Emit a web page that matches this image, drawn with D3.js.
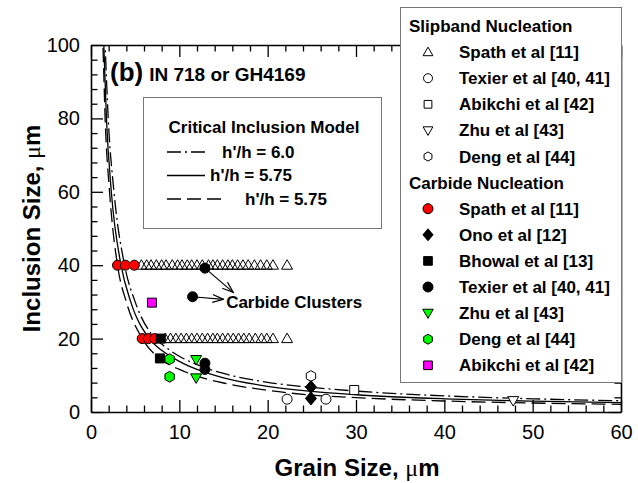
<!DOCTYPE html>
<html>
<head>
<meta charset="utf-8">
<script src="https://cdn.jsdelivr.net/npm/d3@7"></script>
<style>
  body { margin: 0; background: #fff; }
  svg { font-family: "Liberation Sans", Arial, sans-serif; }
</style>
</head>
<body>
<div id="chart"></div>
<script>
// tick values
const grainTicks = [0, 10, 20, 30, 40, 50, 60];
const sizeTicks = [0, 20, 40, 60, 80, 100];

// critical inclusion model, [grain size, inclusion size]
const modelDashDot = [[1.45,110],[1.6,100],[1.95,80],[2.6,60],[3.8,40],[5,30],[7.3,20],[8,18.5],[10,15.2],[12,12.9],[15,10.5],[20,8.1],[25,6.7],[30,5.7],[40,4.4],[50,3.6],[60,3.05]];
const modelSolid = [[1.3,110],[1.45,100],[1.75,80],[2.3,60],[3.4,40],[4.5,30],[6.6,20],[8,16.8],[10,13.8],[12,11.6],[15,9.3],[20,7.0],[25,5.6],[30,4.7],[40,3.6],[50,2.95],[60,2.55]];
const modelDashed = [[1.2,110],[1.35,100],[1.6,80],[2.1,60],[3.0,40],[4.0,30],[5.8,20],[8,14.2],[10,11.6],[12,9.8],[15,7.9],[20,5.9],[25,4.6],[30,3.9],[40,3.0],[50,2.45],[60,2.1]];

// slipband nucleation
const slipSpath40 = [5.7,6.3,6.8,7.4,8.0,8.5,9.2,9.8,10.3,10.9,11.4,12.0,12.6,13.3,13.8,14.3,14.9,15.5,16.0,16.6,17.2,17.8,18.5,19.2,19.9,20.6,22.2];
const slipSpath20 = [8.4,9.0,9.6,10.2,10.8,11.4,12.0,12.6,13.2,13.8,14.3,14.9,15.5,16.1,16.7,17.3,17.9,18.6,19.3,19.9,20.6,22.2];
const slipTexier = [[22.2,3.5],[26.6,3.5]];
const slipAbikchi = [[29.8,6.0]];
const slipZhu = [[47.8,3.1]];
const slipDeng = [[24.9,9.8]];

// carbide nucleation
const carbSpath = [[3.0,40],[3.9,40],[4.9,40],[5.8,20],[6.5,20],[7.2,20]];
const carbOno = [[24.9,6.8],[24.9,3.7]];
const carbBhowal = [[7.9,20],[7.8,14.6]];
const carbTexier = [[12.9,39.2],[11.5,31.4],[12.9,13.3],[12.9,11.6]];
const carbZhu = [[11.9,14.3],[11.9,9.3]];
const carbDeng = [[8.9,14.4],[8.9,9.6]];
const carbAbikchi = [[6.9,29.8]];

const width = 638, height = 483;
const margins = { top: 45, right: 17, bottom: 71, left: 91 };

const svg = d3.select("#chart").append("svg")
  .attr("width", width).attr("height", height)
  .attr("viewBox", [0, 0, width, height]);

const x = d3.scaleLinear().domain([0, 60]).range([margins.left, width - margins.right]);
const y = d3.scaleLinear().domain([0, 100]).range([height - margins.bottom, margins.top]);

// marker shapes
function shapePath(shape, r) {
  switch (shape) {
    case "circle": return d3.symbol(d3.symbolCircle, Math.PI * r * r)();
    case "triUp": return `M${-r*1.1},${r*0.8}L${r*1.1},${r*0.8}L0,${-r*1.1}Z`;
    case "triDown": return `M${-r*1.1},${-r*0.8}L${r*1.1},${-r*0.8}L0,${r*1.1}Z`;
    case "square": return `M${-r*0.9},${-r*0.9}H${r*0.9}V${r*0.9}H${-r*0.9}Z`;
    case "diamond": return `M0,${-r*1.3}L${r*1.1},0L0,${r*1.3}L${-r*1.1},0Z`;
    case "hexagon": {
      const pts = d3.range(6).map(i => {
        const a = (-90 + i * 60) * Math.PI / 180;
        return [r * 1.08 * Math.cos(a), r * 1.08 * Math.sin(a)];
      });
      return "M" + pts.join("L") + "Z";
    }
  }
}

const series = [
  { data: slipSpath40.map(d => [d, 40]), shape: "triUp", fill: "none" },
  { data: slipSpath20.map(d => [d, 20]), shape: "triUp", fill: "none" },
  { data: slipTexier, shape: "circle", fill: "#fff" },
  { data: slipAbikchi, shape: "square", fill: "#fff" },
  { data: slipZhu, shape: "triDown", fill: "#fff" },
  { data: slipDeng, shape: "hexagon", fill: "#fff" },
  { data: carbSpath, shape: "circle", fill: "#ff0000" },
  { data: carbOno, shape: "diamond", fill: "#000" },
  { data: carbBhowal, shape: "square", fill: "#000" },
  { data: carbTexier, shape: "circle", fill: "#000" },
  { data: carbZhu, shape: "triDown", fill: "#00ff00" },
  { data: carbDeng, shape: "hexagon", fill: "#00ff00" },
  { data: carbAbikchi, shape: "square", fill: "#ff00ff" },
];

// clip for the model curves
svg.append("clipPath").attr("id", "plot-clip")
  .append("rect")
  .attr("x", x(0)).attr("y", y(100))
  .attr("width", x(60) - x(0)).attr("height", y(0) - y(100));

// axes (ticks inward on all four sides)
function drawAxis(axisFn, scale, major, minorStep, transform) {
  const minor = d3.range(scale.domain()[0], scale.domain()[1] + 0.001, minorStep)
    .filter(v => !major.includes(v));
  svg.append("g").attr("transform", transform)
    .call(axisFn(scale).tickValues(minor).tickSizeInner(-6.5).tickSizeOuter(0).tickFormat(""))
    .call(g => g.select(".domain").remove());
  return svg.append("g").attr("transform", transform)
    .call(axisFn(scale).tickValues(major).tickSizeInner(-12).tickSizeOuter(0));
}

const xAxis = drawAxis(d3.axisBottom, x, grainTicks, 2, `translate(0,${y(0)})`);
xAxis.call(d3.axisBottom(x).tickValues(grainTicks).tickSizeInner(-12).tickSizeOuter(0).tickPadding(13));
const yAxis = drawAxis(d3.axisLeft, y, sizeTicks, 4, `translate(${x(0)},0)`);
yAxis.call(d3.axisLeft(y).tickValues(sizeTicks).tickSizeInner(-12).tickSizeOuter(0).tickPadding(11));
const topAxis = drawAxis(d3.axisTop, x, grainTicks, 2, `translate(0,${y(100)})`);
topAxis.selectAll("text").remove();
const rightAxis = drawAxis(d3.axisRight, y, sizeTicks, 4, `translate(${x(60)},0)`);
rightAxis.selectAll("text").remove();

svg.selectAll(".domain").attr("stroke-width", 1.6);
svg.selectAll(".tick line").attr("stroke-width", 1.3);
svg.selectAll(".tick text").attr("font-size", 20).attr("fill", "#000")
  .attr("font-family", "'Liberation Sans', Arial, sans-serif");

// model curves
const line = d3.line().x(d => x(d[0])).y(d => y(d[1])).curve(d3.curveMonotoneX);
const curveG = svg.append("g").attr("clip-path", "url(#plot-clip)")
  .attr("fill", "none").attr("stroke", "#000").attr("stroke-width", 1.3);
curveG.append("path").attr("d", line(modelDashDot)).attr("stroke-dasharray", "14,4,2,4");
curveG.append("path").attr("d", line(modelSolid));
curveG.append("path").attr("d", line(modelDashed)).attr("stroke-dasharray", "14,6");

// annotation arrows for carbide clusters
svg.append("defs").append("marker")
  .attr("id", "open-arrow").attr("viewBox", "0 0 12 10")
  .attr("refX", 11).attr("refY", 5)
  .attr("markerWidth", 12).attr("markerHeight", 10)
  .attr("markerUnits", "userSpaceOnUse").attr("orient", "auto")
  .append("path").attr("d", "M0,1 L11,5 L0,9").attr("fill", "none")
  .attr("stroke", "#000").attr("stroke-width", 1.2);

const arrows = [[[12.9, 39.2], [16.1, 32.6]], [[11.5, 31.4], [15.0, 30.7]]];
svg.append("g").selectAll("line").data(arrows).join("line")
  .attr("x1", d => x(d[0][0])).attr("y1", d => y(d[0][1]))
  .attr("x2", d => x(d[1][0])).attr("y2", d => y(d[1][1]))
  .attr("stroke", "#000").attr("stroke-width", 1.2)
  .attr("marker-end", "url(#open-arrow)");

svg.append("text").attr("x", x(15.3)).attr("y", y(28.3))
  .attr("font-size", 17).attr("font-weight", "bold").text("Carbide Clusters");

// data markers
series.forEach(s => {
  svg.append("g").selectAll("path").data(s.data).join("path")
    .attr("transform", d => `translate(${x(d[0])},${y(d[1])})`)
    .attr("d", shapePath(s.shape, 5))
    .attr("fill", s.fill).attr("stroke", "#000").attr("stroke-width", 1);
});

// panel label
const panel = svg.append("text").attr("x", 110).attr("y", 81).attr("font-weight", "bold");
panel.append("tspan").attr("font-size", 26).text("(b)");
panel.append("tspan").attr("font-size", 19).attr("dx", 6).text("IN 718 or GH4169");

// model legend box
const modelLegend = svg.append("g");
modelLegend.append("rect").attr("x", 143.5).attr("y", 97.5).attr("width", 238).attr("height", 131)
  .attr("fill", "#fff").attr("stroke", "#777").attr("stroke-width", 1);
modelLegend.append("text").attr("x", 264).attr("y", 133).attr("text-anchor", "middle")
  .attr("font-size", 17).attr("font-weight", "bold").text("Critical Inclusion Model");
const modelKeys = [
  { dash: "14,4,2,4", x2: 208, tx: 222, label: "h'/h = 6.0" },
  { dash: null, x2: 205, tx: 210, label: "h'/h = 5.75" },
  { dash: "14,6", x2: 222, tx: 245, label: "h'/h = 5.75" },
];
modelKeys.forEach((k, i) => {
  const cy = 152 + i * 23.5;
  modelLegend.append("line").attr("x1", 167).attr("x2", k.x2).attr("y1", cy).attr("y2", cy)
    .attr("stroke", "#000").attr("stroke-width", 1.3).attr("stroke-dasharray", k.dash);
  modelLegend.append("text").attr("x", k.tx).attr("y", cy + 5.5)
    .attr("font-size", 17).attr("font-weight", "bold").text(k.label);
});

// data legend box
const legendRows = [
  { header: "Slipband Nucleation" },
  { label: "Spath et al [11]", shape: "triUp", fill: "#fff", r: 4.5 },
  { label: "Texier et al [40, 41]", shape: "circle", fill: "#fff", r: 4.5 },
  { label: "Abikchi et al [42]", shape: "square", fill: "#fff", r: 4.3 },
  { label: "Zhu et al [43]", shape: "triDown", fill: "#fff", r: 4.5 },
  { label: "Deng et al [44]", shape: "hexagon", fill: "#fff", r: 4.2 },
  { header: "Carbide Nucleation" },
  { label: "Spath et al [11]", shape: "circle", fill: "#ff0000", r: 5 },
  { label: "Ono et al [12]", shape: "diamond", fill: "#000", r: 4.6 },
  { label: "Bhowal et al [13]", shape: "square", fill: "#000", r: 4.8 },
  { label: "Texier et al [40, 41]", shape: "circle", fill: "#000", r: 5 },
  { label: "Zhu et al [43]", shape: "triDown", fill: "#00ff00", r: 4.8 },
  { label: "Deng et al [44]", shape: "hexagon", fill: "#00ff00", r: 4.6 },
  { label: "Abikchi et al [42]", shape: "square", fill: "#ff00ff", r: 4.8 },
];
const legend = svg.append("g");
legend.append("rect").attr("x", 400.5).attr("y", 7.5).attr("width", 221).attr("height", 375)
  .attr("fill", "#fff").attr("stroke", "#777").attr("stroke-width", 1);
legendRows.forEach((row, i) => {
  const cy = 26 + i * 26.1;
  if (row.header) {
    legend.append("text").attr("x", 409).attr("y", cy + 6)
      .attr("font-size", 17).attr("font-weight", "bold").text(row.header);
  } else {
    legend.append("path").attr("transform", `translate(428,${cy})`)
      .attr("d", shapePath(row.shape, row.r))
      .attr("fill", row.fill).attr("stroke", "#000").attr("stroke-width", 1);
    legend.append("text").attr("x", 459).attr("y", cy + 6)
      .attr("font-size", 17).attr("font-weight", "bold").text(row.label);
  }
});

// axis titles
const xTitle = svg.append("text").attr("x", 357).attr("y", 476).attr("text-anchor", "middle")
  .attr("font-size", 24).attr("font-weight", "bold");
xTitle.append("tspan").text("Grain Size, ");
xTitle.append("tspan").attr("font-weight", "normal").attr("font-family", "'Liberation Serif', serif").text("μ");
xTitle.append("tspan").text("m");

const yTitle = svg.append("text").attr("transform", `translate(40,${(y(0) + y(100)) / 2}) rotate(-90)`)
  .attr("text-anchor", "middle").attr("font-size", 24).attr("font-weight", "bold");
yTitle.append("tspan").text("Inclusion Size, ");
yTitle.append("tspan").attr("font-weight", "normal").attr("font-family", "'Liberation Serif', serif").text("μ");
yTitle.append("tspan").text("m");
</script>
</body>
</html>
